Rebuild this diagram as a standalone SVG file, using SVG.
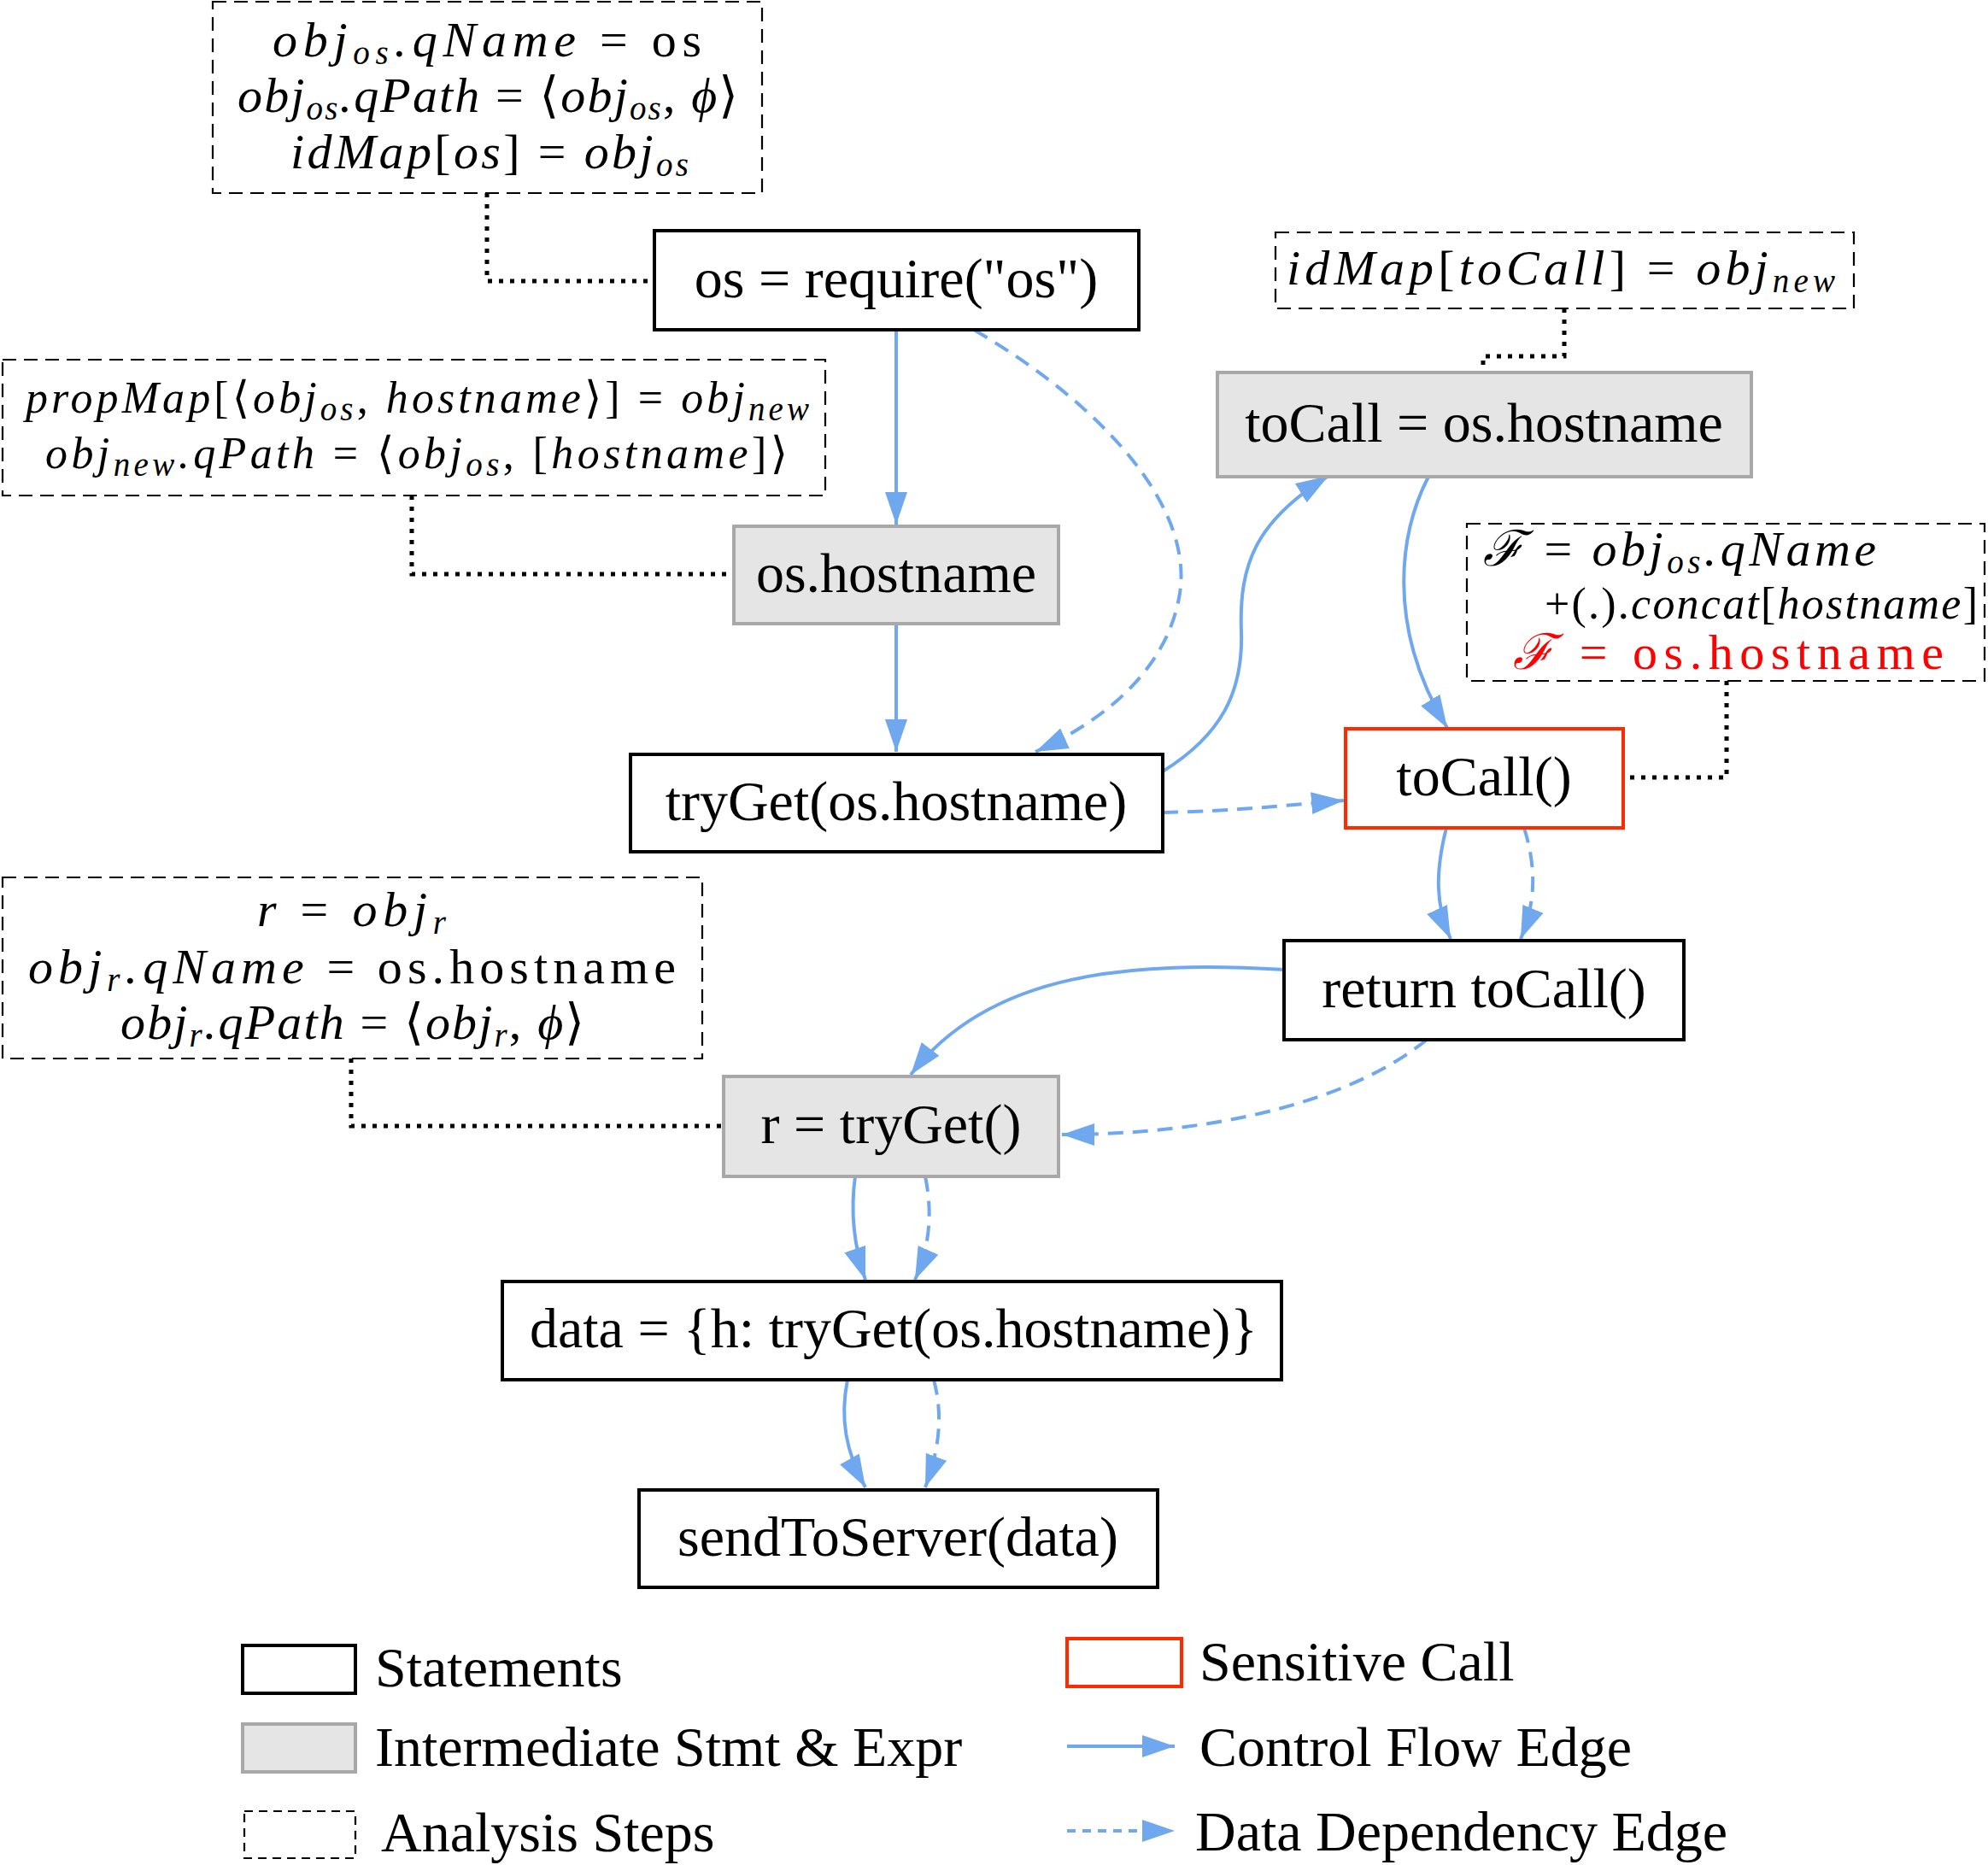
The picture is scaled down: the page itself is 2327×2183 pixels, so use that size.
<svg xmlns="http://www.w3.org/2000/svg" width="2327" height="2183" viewBox="0 0 2327 2183">
<style>
.box{fill:#fff;stroke:#000;stroke-width:4}
.inter{fill:#e5e5e5;stroke:#a8a8a8;stroke-width:4}
.sens{fill:#fff;stroke:#ff2a00;stroke-width:4}
.note{fill:none;stroke:#000;stroke-width:2.2;stroke-dasharray:16 9}
.dot{fill:none;stroke:#000;stroke-width:5;stroke-dasharray:5 8}
.cf{fill:none;stroke:#6fa8ef;stroke-width:4;marker-end:url(#ah)}
.dd{fill:none;stroke:#6fa8ef;stroke-width:4;stroke-dasharray:18 11;marker-end:url(#ah)}
.t{font-family:"Liberation Serif","Times New Roman",serif;font-size:66px;text-anchor:middle;fill:#000}
.lt{font-family:"Liberation Serif","Times New Roman",serif;font-size:66px;fill:#000}
.m{font-family:"Liberation Serif","DejaVu Serif",serif;font-style:italic;font-size:58px;fill:#000}
.m2{font-family:"Liberation Serif","DejaVu Serif",serif;font-style:italic;font-size:52px;fill:#000}
.r{font-style:normal}
.s{font-size:39px}
</style>
<defs>
<marker id="ah" markerUnits="userSpaceOnUse" markerWidth="40" markerHeight="28" refX="38" refY="13" orient="auto">
<path d="M0,0 L38,13 L0,26 z" fill="#6fa8ef"/>
</marker>
</defs>
<rect width="2327" height="2183" fill="#fff"/>

<g id="connectors">
<polyline class="dot" points="570,226 570,329 766,329"/>
<polyline class="dot" points="482,580 482,672 859,672"/>
<polyline class="dot" points="1831,361 1831,417 1736,417 1736,436"/>
<polyline class="dot" points="2021,797 2021,910 1900,910"/>
<polyline class="dot" points="411,1239 411,1318 847,1318"/>

<path class="cf" d="M1049,386 L1049,614"/>
<path class="dd" d="M1140,386 C1300,480 1400,600 1380,700 C1365,780 1300,840 1212,880"/>
<path class="cf" d="M1049,730 L1049,880"/>
<path class="cf" d="M1361,903 C1430,860 1455,810 1453,740 C1450,660 1470,610 1555,557"/>
<path class="cf" d="M1672,558 C1640,620 1620,730 1694,852"/>
<path class="dd" d="M1361,951 C1450,949 1500,943 1573,937"/>
<path class="cf" d="M1693,969 C1680,1020 1680,1060 1698,1099"/>
<path class="dd" d="M1784,969 C1800,1020 1796,1060 1780,1099"/>
<path class="cf" d="M1503,1135 C1330,1125 1160,1135 1066,1258"/>
<path class="dd" d="M1670,1217 C1580,1290 1420,1328 1243,1328"/>
<path class="cf" d="M1001,1377 C995,1420 1000,1460 1013,1498"/>
<path class="dd" d="M1083,1377 C1092,1420 1088,1460 1071,1498"/>
<path class="cf" d="M992,1615 C983,1660 990,1700 1013,1741"/>
<path class="dd" d="M1093,1615 C1105,1660 1098,1700 1083,1741"/>
</g>

<g id="note-os">
<rect class="note" x="249" y="2" width="643" height="224"/>
<text class="m" x="319" y="66" textLength="502" lengthAdjust="spacing">obj<tspan class="s" dy="9">os</tspan><tspan dy="-9">.qName</tspan><tspan class="r"> = os</tspan></text>
<text class="m" x="278" y="131" textLength="586" lengthAdjust="spacing">obj<tspan class="s" dy="9">os</tspan><tspan dy="-9">.qPath</tspan><tspan class="r"> = ⟨</tspan>obj<tspan class="s" dy="9">os</tspan><tspan class="r" dy="-9">, </tspan>ϕ<tspan class="r">⟩</tspan></text>
<text class="m" x="340" y="197" textLength="466" lengthAdjust="spacing">idMap<tspan class="r">[</tspan>os<tspan class="r">] = </tspan>obj<tspan class="s" dy="9">os</tspan></text>
</g>

<g id="note-prop">
<rect class="note" x="3" y="421" width="963" height="159"/>
<text class="m2" x="30" y="483" textLength="917" lengthAdjust="spacing">propMap<tspan class="r">[⟨</tspan>obj<tspan class="s" dy="9">os</tspan><tspan class="r" dy="-9">, </tspan>hostname<tspan class="r">⟩] = </tspan>obj<tspan class="s" dy="9">new</tspan></text>
<text class="m2" x="53" y="548" textLength="869" lengthAdjust="spacing">obj<tspan class="s" dy="9">new</tspan><tspan dy="-9">.qPath</tspan><tspan class="r"> = ⟨</tspan>obj<tspan class="s" dy="9">os</tspan><tspan class="r" dy="-9">, [</tspan>hostname<tspan class="r">]⟩</tspan></text>
</g>

<g id="note-idmap">
<rect class="note" x="1493" y="272" width="677" height="89"/>
<text class="m" x="1506" y="333" textLength="642" lengthAdjust="spacing">idMap<tspan class="r">[</tspan>toCall<tspan class="r">] = </tspan>obj<tspan class="s" dy="9">new</tspan></text>
</g>

<g id="note-F">
<rect class="note" x="1717" y="613" width="606" height="184"/>
<text class="m" x="1736" y="662" textLength="460" lengthAdjust="spacing">ℱ<tspan class="r"> = </tspan>obj<tspan class="s" dy="9">os</tspan><tspan dy="-9">.qName</tspan></text>
<text class="m2" x="1808" y="724" textLength="507" lengthAdjust="spacing"><tspan class="r">+(.).</tspan>concat<tspan class="r">[</tspan>hostname<tspan class="r">]</tspan></text>
<text class="m" x="1771" y="783" textLength="504" lengthAdjust="spacing" style="fill:#ff0000">ℱ<tspan class="r"> = os.hostname</tspan></text>
</g>

<g id="note-r">
<rect class="note" x="3" y="1027" width="819" height="212"/>
<text class="m" x="301" y="1084" textLength="221" lengthAdjust="spacing">r<tspan class="r"> = </tspan>obj<tspan class="s" dy="9">r</tspan></text>
<text class="m" x="33" y="1151" textLength="758" lengthAdjust="spacing">obj<tspan class="s" dy="9">r</tspan><tspan dy="-9">.qName</tspan><tspan class="r"> = os.hostname</tspan></text>
<text class="m" x="141" y="1216" textLength="543" lengthAdjust="spacing">obj<tspan class="s" dy="9">r</tspan><tspan dy="-9">.qPath</tspan><tspan class="r"> = ⟨</tspan>obj<tspan class="s" dy="9">r</tspan><tspan class="r" dy="-9">, </tspan>ϕ<tspan class="r">⟩</tspan></text>
</g>

<g id="n-require"><rect class="box" x="766" y="270" width="567" height="116"/><text class="t" x="1049" y="348">os = require("os")</text></g>
<g id="n-oshost"><rect class="inter" x="859" y="616" width="380" height="114"/><text class="t" x="1049" y="693">os.hostname</text></g>
<g id="n-tryget"><rect class="box" x="738" y="883" width="623" height="114"/><text class="t" x="1049" y="960">tryGet(os.hostname)</text></g>
<g id="n-tocallassign"><rect class="inter" x="1425" y="436" width="625" height="122"/><text class="t" x="1737" y="517">toCall = os.hostname</text></g>
<g id="n-tocall"><rect class="sens" x="1575" y="853" width="325" height="116"/><text class="t" x="1737" y="931">toCall()</text></g>
<g id="n-return"><rect class="box" x="1503" y="1101" width="468" height="116"/><text class="t" x="1737" y="1179">return toCall()</text></g>
<g id="n-r"><rect class="inter" x="847" y="1260" width="392" height="117"/><text class="t" x="1043" y="1338">r = tryGet()</text></g>
<g id="n-data"><rect class="box" x="588" y="1500" width="912" height="115"/><text class="t" x="1046" y="1577">data = {h: tryGet(os.hostname)}</text></g>
<g id="n-send"><rect class="box" x="748" y="1744" width="607" height="114"/><text class="t" x="1051" y="1821">sendToServer(data)</text></g>

<g id="legend">
<rect class="box" x="284" y="1926" width="132" height="56"/>
<text class="lt" x="439" y="1974">Statements</text>
<rect class="inter" x="284" y="2018" width="132" height="56"/>
<text class="lt" x="439" y="2067">Intermediate Stmt &amp; Expr</text>
<rect class="note" x="286" y="2120" width="130" height="55" style="stroke-dasharray:10 7"/>
<text class="lt" x="446" y="2167">Analysis Steps</text>
<rect class="sens" x="1249" y="1918" width="134" height="56"/>
<text class="lt" x="1404" y="1967">Sensitive Call</text>
<path class="cf" d="M1249,2044 L1375,2044"/>
<text class="lt" x="1404" y="2067">Control Flow Edge</text>
<path class="dd" d="M1249,2143 L1375,2143" style="stroke-dasharray:10 8"/>
<text class="lt" x="1399" y="2166">Data Dependency Edge</text>
</g>
</svg>
